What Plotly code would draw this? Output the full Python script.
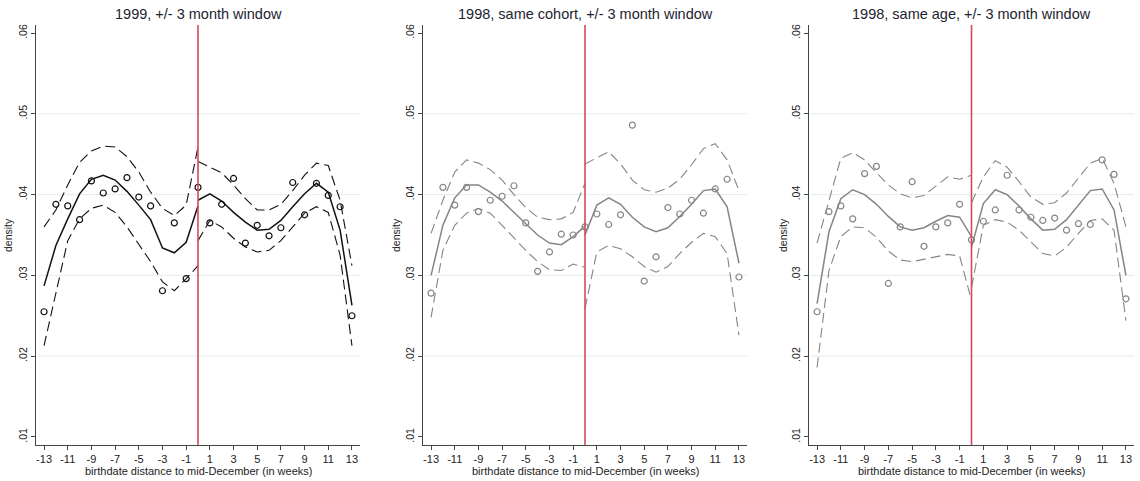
import plotly.graph_objects as go

# ---------------- data ----------------
weeks = list(range(-13, 14))
weeks_left = list(range(-13, 1))
weeks_right = list(range(0, 14))
xtick_vals = list(range(-13, 14, 2))
xtick_text = [str(v) for v in xtick_vals]
ytick_vals = [0.01, 0.02, 0.03, 0.04, 0.05, 0.06]
ytick_text = [".01", ".02", ".03", ".04", ".05", ".06"]

titles = ["1999, +/- 3 month window",
          "1998, same cohort, +/- 3 month window",
          "1998, same age, +/- 3 month window"]

# panel 1: 1999
dens_1999 = [0.0255, 0.0388, 0.0386, 0.0369, 0.0417, 0.0402, 0.0407, 0.0421, 0.0397, 0.0386, 0.0281, 0.0365, 0.0296, 0.0409,
             0.0365, 0.0388, 0.0420, 0.0340, 0.0362, 0.0349, 0.0359, 0.0415, 0.0375, 0.0414, 0.0399, 0.0385, 0.0250]
fit_l_1999 = [0.0287, 0.0337, 0.0370, 0.0401, 0.0419, 0.0424, 0.0418, 0.0404, 0.0387, 0.0369, 0.0334, 0.0328, 0.0341, 0.0386]
fit_r_1999 = [0.0393, 0.0401, 0.0392, 0.0378, 0.0366, 0.0356, 0.0357, 0.0368, 0.0385, 0.0401, 0.0414, 0.0403, 0.0356, 0.0263]
up_l_1999 = [0.0360, 0.0381, 0.0412, 0.0440, 0.0454, 0.0460, 0.0459, 0.0447, 0.0428, 0.0403, 0.0383, 0.0374, 0.0387, 0.0459]
up_r_1999 = [0.0441, 0.0434, 0.0427, 0.0412, 0.0395, 0.0381, 0.0381, 0.0388, 0.0405, 0.0424, 0.0439, 0.0436, 0.0393, 0.0312]
lo_l_1999 = [0.0213, 0.0280, 0.0343, 0.0370, 0.0383, 0.0387, 0.0378, 0.0360, 0.0339, 0.0317, 0.0292, 0.0281, 0.0296, 0.0312]
lo_r_1999 = [0.0343, 0.0368, 0.0360, 0.0346, 0.0335, 0.0329, 0.0331, 0.0343, 0.0360, 0.0377, 0.0385, 0.0378, 0.0325, 0.0213]

# panel 2: 1998 same cohort
dens_cohort = [0.0278, 0.0409, 0.0387, 0.0409, 0.0379, 0.0393, 0.0398, 0.0411, 0.0365, 0.0305, 0.0329, 0.0351, 0.0350, 0.0360,
               0.0376, 0.0363, 0.0375, 0.0486, 0.0293, 0.0323, 0.0384, 0.0376, 0.0393, 0.0377, 0.0407, 0.0419, 0.0298]
fit_l_cohort = [0.0300, 0.0362, 0.0396, 0.0412, 0.0412, 0.0403, 0.0392, 0.0378, 0.0363, 0.0350, 0.0340, 0.0338, 0.0348, 0.0361]
fit_r_cohort = [0.0350, 0.0387, 0.0396, 0.0388, 0.0372, 0.0360, 0.0354, 0.0359, 0.0373, 0.0388, 0.0405, 0.0407, 0.0385, 0.0315]
up_l_cohort = [0.0352, 0.0393, 0.0428, 0.0443, 0.0439, 0.0431, 0.0418, 0.0400, 0.0384, 0.0372, 0.0369, 0.0370, 0.0378, 0.0414]
up_r_cohort = [0.0438, 0.0445, 0.0453, 0.0438, 0.0418, 0.0406, 0.0403, 0.0408, 0.0419, 0.0437, 0.0457, 0.0463, 0.0443, 0.0405]
lo_l_cohort = [0.0248, 0.0331, 0.0362, 0.0377, 0.0383, 0.0377, 0.0362, 0.0346, 0.0331, 0.0317, 0.0307, 0.0306, 0.0314, 0.0310]
lo_r_cohort = [0.0259, 0.0329, 0.0337, 0.0333, 0.0323, 0.0311, 0.0304, 0.0311, 0.0327, 0.0341, 0.0352, 0.0348, 0.0327, 0.0226]

# panel 3: 1998 same age
dens_age = [0.0255, 0.0379, 0.0386, 0.0370, 0.0426, 0.0435, 0.0290, 0.0360, 0.0416, 0.0336, 0.0360, 0.0365, 0.0388, 0.0344,
            0.0367, 0.0381, 0.0424, 0.0381, 0.0372, 0.0368, 0.0371, 0.0356, 0.0364, 0.0363, 0.0443, 0.0425, 0.0271]
fit_l_age = [0.0265, 0.0354, 0.0395, 0.0406, 0.0400, 0.0388, 0.0373, 0.0360, 0.0356, 0.0359, 0.0367, 0.0374, 0.0372, 0.0348]
fit_r_age = [0.0335, 0.0389, 0.0406, 0.0400, 0.0386, 0.0370, 0.0356, 0.0357, 0.0369, 0.0387, 0.0405, 0.0407, 0.0381, 0.0300]
up_l_age = [0.0340, 0.0393, 0.0445, 0.0452, 0.0443, 0.0427, 0.0412, 0.0401, 0.0396, 0.0399, 0.0410, 0.0422, 0.0419, 0.0424]
up_r_age = [0.0390, 0.0422, 0.0442, 0.0434, 0.0416, 0.0397, 0.0388, 0.0390, 0.0402, 0.0420, 0.0439, 0.0445, 0.0414, 0.0360]
lo_l_age = [0.0186, 0.0306, 0.0348, 0.0360, 0.0359, 0.0347, 0.0330, 0.0319, 0.0317, 0.0320, 0.0323, 0.0326, 0.0324, 0.0269]
lo_r_age = [0.0285, 0.0362, 0.0369, 0.0366, 0.0356, 0.0341, 0.0327, 0.0324, 0.0335, 0.0352, 0.0368, 0.0370, 0.0356, 0.0244]

panels = [
    dict(dens=dens_1999, fl=fit_l_1999, fr=fit_r_1999, ul=up_l_1999, ur=up_r_1999, ll=lo_l_1999, lr=lo_r_1999, color="#111111"),
    dict(dens=dens_cohort, fl=fit_l_cohort, fr=fit_r_cohort, ul=up_l_cohort, ur=up_r_cohort, ll=lo_l_cohort, lr=lo_r_cohort, color="#858585"),
    dict(dens=dens_age, fl=fit_l_age, fr=fit_r_age, ul=up_l_age, ur=up_r_age, ll=lo_l_age, lr=lo_r_age, color="#858585"),
]

W, H = 1140, 481
x_dom_px = [(36, 360), (423, 747), (809, 1134)]
y_top_px, y_bot_px = 25, 445
ylab_x_px = [8, 396, 783]
font_family = "Arial, Liberation Sans, sans-serif"

fig = go.Figure()
shapes = []
annotations = []

for i, p in enumerate(panels):
    sfx = "" if i == 0 else str(i + 1)
    xa, ya = "x" + sfx, "y" + sfx
    c = p["color"]
    # dashed CIs
    for xs, key in [(weeks_left, "ul"), (weeks_left, "ll"), (weeks_right, "ur"), (weeks_right, "lr")]:
        fig.add_trace(go.Scatter(x=xs, y=p[key], mode="lines", xaxis=xa, yaxis=ya,
                                 line=dict(color=c, width=1.1, dash="10px,5px"), hoverinfo="skip"))
    # fits
    for xs, key in [(weeks_left, "fl"), (weeks_right, "fr")]:
        fig.add_trace(go.Scatter(x=xs, y=p[key], mode="lines", xaxis=xa, yaxis=ya,
                                 line=dict(color=c, width=1.5)))
    # points
    fig.add_trace(go.Scatter(x=weeks, y=p["dens"], mode="markers", xaxis=xa, yaxis=ya,
                             marker=dict(symbol="circle-open", size=6, color=c, line=dict(width=1.2, color=c))))

    x0, x1 = x_dom_px[i]
    xdom = [x0 / W, x1 / W]
    ydom = [1 - y_bot_px / H, 1 - y_top_px / H]
    fig.layout["xaxis" + sfx] = dict(
        domain=xdom, anchor=ya, range=[-13.68, 13.68], tickvals=xtick_vals, ticktext=xtick_text,
        ticks="outside", ticklen=4, tickcolor="#444", tickwidth=1,
        showline=True, linecolor="#444", linewidth=1.3, showgrid=False, zeroline=False,
        tickfont=dict(size=11, color="#222", family=font_family),
    )
    fig.layout["yaxis" + sfx] = dict(
        domain=ydom, anchor=xa, range=[0.009, 0.061], tickvals=ytick_vals, ticktext=ytick_text,
        tickangle=-90, ticks="outside", ticklen=4, tickcolor="#444", tickwidth=1,
        showline=True, linecolor="#444", linewidth=1.3, showgrid=False, zeroline=False,
        tickfont=dict(size=10.5, color="#222", family=font_family),
    )
    # gridlines
    for gv in [0.02, 0.03, 0.04, 0.05]:
        shapes.append(dict(type="line", xref=xa + " domain", yref=ya, x0=0.004, x1=1, y0=gv, y1=gv,
                           line=dict(color="#e1ecef", width=1), layer="below"))
    # red cutoff line
    shapes.append(dict(type="line", xref=xa, yref=ya + " domain", x0=0, x1=0, y0=0, y1=1,
                       line=dict(color="#d8485a", width=1.6), layer="above"))
    cx = (x0 + x1) / 2 / W
    annotations.append(dict(text=titles[i], x=cx, y=1 - 14 / H, xref="paper", yref="paper",
                            showarrow=False, xanchor="center", yanchor="middle",
                            font=dict(size=14.5, color="#1c2430", family=font_family)))
    annotations.append(dict(text="birthdate distance to mid-December (in weeks)", x=cx, y=1 - 471 / H,
                            xref="paper", yref="paper", showarrow=False, xanchor="center", yanchor="middle",
                            font=dict(size=11, color="#222", family=font_family)))
    annotations.append(dict(text="density", x=ylab_x_px[i] / W, y=1 - 235 / H, xref="paper", yref="paper",
                            showarrow=False, xanchor="center", yanchor="middle", textangle=-90,
                            font=dict(size=10.5, color="#222", family=font_family)))

fig.update_layout(
    width=W, height=H, margin=dict(l=0, r=0, t=0, b=0),
    paper_bgcolor="white", plot_bgcolor="white", showlegend=False,
    shapes=shapes, annotations=annotations,
    font=dict(family=font_family),
)

fig.write_html("out.html")
